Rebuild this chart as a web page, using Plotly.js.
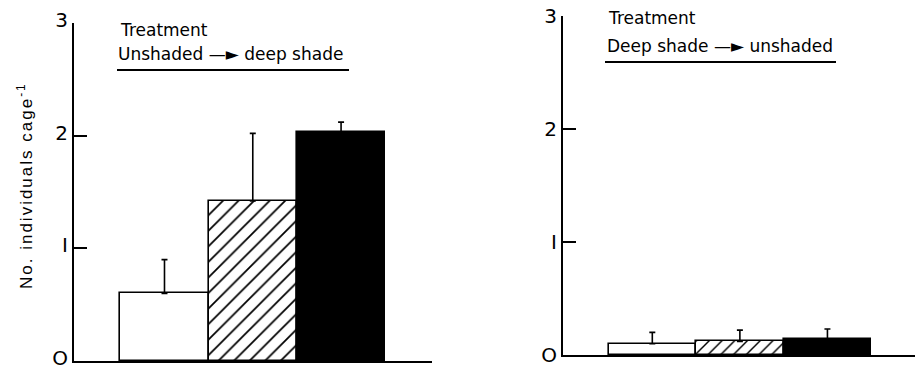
<!DOCTYPE html>
<html>
<head>
<meta charset="utf-8">
<script src="https://cdn.plot.ly/plotly-3.0.1.min.js"></script>
<style>
  html, body { margin: 0; padding: 0; background: #fff; }
  #chart { width: 924px; height: 368px; }
  .annotation[data-index="0"] text { letter-spacing: 2px; }
</style>
</head>
<body>
<div id="chart"></div>
<script>
// Bar groups (open, hatched, solid) shared by both panels
const groups = ["Group 1", "Group 2", "Group 3"];

// Panel A: unshaded -> deep shade (mean and upper SE)
const meanA = [0.60, 1.42, 2.03];
const seA = [0.30, 0.60, 0.09];

// Panel B: deep shade -> unshaded
const meanB = [0.10, 0.12, 0.14];
const seB = [0.10, 0.10, 0.09];

const yTicks = [0, 1, 2, 3];
const yTickText = ["O", "I", "2", "3"];

const fills = ["white", "white", "black"];
const hatch = ["", "/", ""];

// one trace per bar so each can carry its own fill / hatching
function panelTraces(mean, err, xa, ya, hatchSize) {
  return groups.map((g, i) => {
    const marker = {
      color: fills[i],
      line: { color: "black", width: 1.6 }
    };
    if (hatch[i]) {
      marker.pattern = { shape: hatch[i], fgcolor: "black", bgcolor: "white", fgopacity: 1,
                         size: hatchSize, solidity: 0.16, fillmode: "overlay" };
    }
    return {
      type: "bar",
      x: [g],
      y: [mean[i]],
      xaxis: xa,
      yaxis: ya,
      width: 1,
      marker: marker,
      error_y: {
        type: "data",
        symmetric: false,
        array: [err[i]],
        arrayminus: [0],
        color: "black",
        thickness: 1.6,
        width: 3
      },
      showlegend: false,
      hoverinfo: "skip"
    };
  });
}

const data = [].concat(
  panelTraces(meanA, seA, "x", "y", 11),
  panelTraces(meanB, seB, "x2", "y2", 9)
);

const W = 924, H = 368;
const px = v => v / W;
const py = v => 1 - v / H;

const yAxisBase = {
  range: [0, 3],
  tickvals: yTicks,
  ticktext: yTickText,
  ticks: "inside",
  ticklen: 13,
  tickwidth: 2,
  tickcolor: "black",
  ticklabeloverflow: "allow",
  showline: true,
  linecolor: "black",
  linewidth: 2,
  showgrid: false,
  zeroline: false,
  tickfont: { family: "DejaVu Sans", size: 20, color: "black" },
  fixedrange: true
};
const xAxisBase = {
  type: "category",
  showline: true,
  linecolor: "black",
  linewidth: 2,
  showticklabels: false,
  ticks: "",
  showgrid: false,
  zeroline: false,
  fixedrange: true
};

const textFont = { family: "DejaVu Sans", size: 17, color: "black" };
const arrow = "\u2014\u25BA";

const layout = {
  width: W,
  height: H,
  margin: { l: 0, r: 0, t: 0, b: 0 },
  paper_bgcolor: "white",
  plot_bgcolor: "white",
  bargap: 0,
  barmode: "overlay",
  xaxis: Object.assign({}, xAxisBase, { domain: [px(74), px(432)], range: [-1.025, 3.03], anchor: "y" }),
  yaxis: Object.assign({}, yAxisBase, { domain: [1 - 361 / H, 1 - 23 / H], anchor: "x", ticklabelshift: -3 }),
  xaxis2: Object.assign({}, xAxisBase, { domain: [px(563), px(915)], range: [-1.02, 3.0], anchor: "y2" }),
  yaxis2: Object.assign({}, yAxisBase, { domain: [1 - 355 / H, 1 - 16 / H], anchor: "x2" }),
  annotations: [
    { xref: "paper", yref: "paper", x: px(25), y: py(186), text: "No. individuals cage<sup>-1</sup>",
      textangle: -90, showarrow: false, font: { family: "Liberation Sans", size: 17, color: "black" },
      xanchor: "center", yanchor: "middle" },
    { xref: "paper", yref: "paper", x: px(118), y: py(30), text: "Treatment", showarrow: false,
      font: textFont, xanchor: "left", yanchor: "middle" },
    { xref: "paper", yref: "paper", x: px(116), y: py(54), text: "Unshaded " + arrow + " deep shade", showarrow: false,
      font: textFont, xanchor: "left", yanchor: "middle" },
    { xref: "paper", yref: "paper", x: px(606), y: py(18), text: "Treatment", showarrow: false,
      font: textFont, xanchor: "left", yanchor: "middle" },
    { xref: "paper", yref: "paper", x: px(605), y: py(46), text: "Deep shade " + arrow + " unshaded", showarrow: false,
      font: textFont, xanchor: "left", yanchor: "middle" }
  ],
  shapes: [
    { type: "line", xref: "paper", yref: "paper", x0: px(117), x1: px(349), y0: py(70), y1: py(70),
      line: { color: "black", width: 2 } },
    { type: "line", xref: "paper", yref: "paper", x0: px(605), x1: px(836), y0: py(62), y1: py(62),
      line: { color: "black", width: 2 } }
  ]
};

Plotly.newPlot("chart", data, layout, { displayModeBar: false });
</script>
</body>
</html>
